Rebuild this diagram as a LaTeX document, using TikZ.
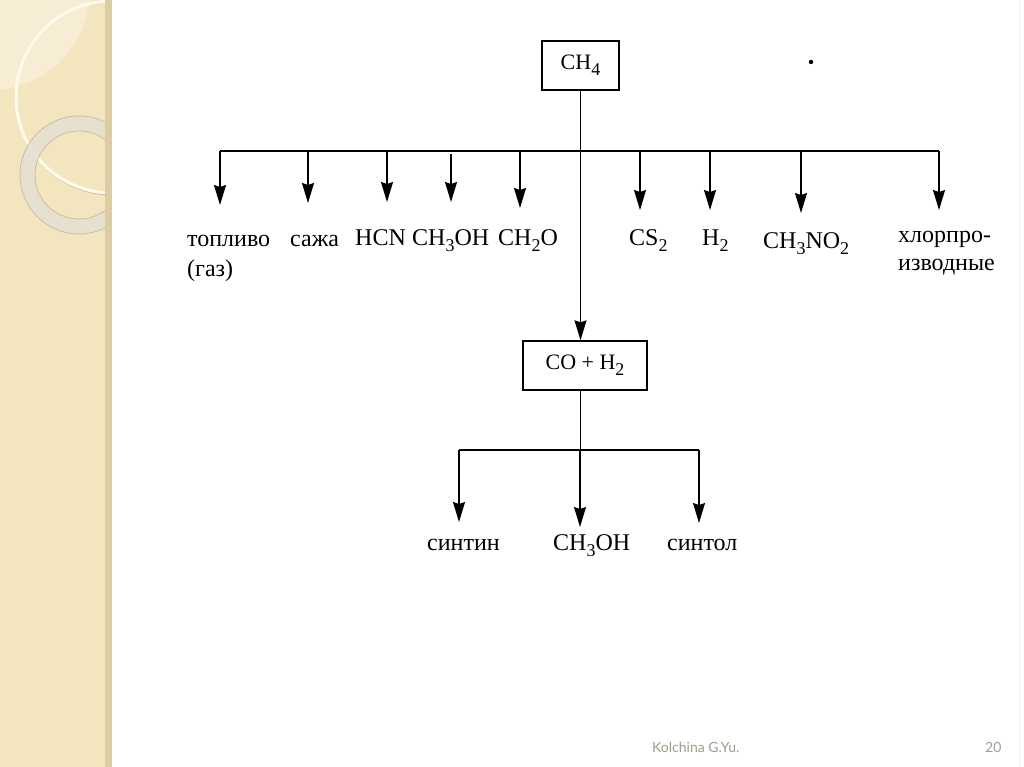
\documentclass[tikz,border=0pt]{standalone}
\usepackage{fontspec}
\setmainfont{Liberation Serif}
\newfontfamily\footfont{Lato}
\newfontfamily\chemfont{Liberation Serif}
\usetikzlibrary{arrows.meta}
\newcommand\chsb[1]{\raisebox{-0.28em}{\fontsize{18}{18}\selectfont #1}}
\definecolor{panelbg}{HTML}{F3E5BE}
\definecolor{panellight}{HTML}{F7EDD4}
\definecolor{panelstrip}{HTML}{DCCCA3}
\definecolor{ringgray}{HTML}{E4E0D4}
\definecolor{ringedge}{HTML}{C9BFA6}
\definecolor{ringcream}{HTML}{FDFAF0}
\definecolor{foot}{HTML}{A39D8F}
\begin{document}
\begin{tikzpicture}[x=1pt,y=-1pt,
  lbl/.style={anchor=base west,inner sep=0pt,font=\chemfont\fontsize{24}{28}\selectfont},
  boxnode/.style={draw,line width=1.3pt,inner sep=0pt,minimum height=49pt,font=\chemfont\fontsize{22}{26}\selectfont},
  conn/.style={line width=1.4pt},
  arr/.style={conn,-{Stealth[length=20pt,width=12pt,inset=2pt]}},
  footlbl/.style={anchor=base west,inner sep=0pt,text=foot,font=\footfont\fontsize{14}{16}\selectfont}
]
\useasboundingbox (0,0) rectangle (1024,767);
\fill[white] (0,0) rectangle (1024,767);
% left decorative panel
\begin{scope}
  \clip (0,0) rectangle (105,767);
  \fill[panelbg] (0,0) rectangle (105,767);
  \fill[panellight] (-10,-10) circle (100);
  \draw[ringedge,line width=1.2pt] (113,98) circle (97);
  \draw[ringcream,line width=3pt] (112,97) circle (96);
  \fill[ringgray,opacity=0.85,even odd rule] (79,175) circle (59) (79,175) circle (44);
  \draw[ringedge,line width=0.8pt] (79,175) circle (59);
  \draw[ringedge,line width=0.8pt] (79,175) circle (44);
\end{scope}
\fill[panelstrip] (105,0) rectangle (112,767);
\draw[black!6,line width=1pt] (1019,0) -- (1019,767);
% boxes
\node[boxnode,minimum width=77pt] (ch4) at (580.5,65.5) {CH\chsb{4}};
\node[boxnode,minimum width=124pt] (syn) at (585,365.5) {CO + H\chsb{2}};
% dot
\fill (811,62) circle (2.2);
% top bus
\coordinate (bl) at (220,151);
\coordinate (br) at (939,151);
\draw[conn] (bl) -- (br);
\draw[arr] (ch4.south) -- (ch4.south |- syn.north);
\coordinate (t1) at (220,205);
\coordinate (t2) at (308,203);
\coordinate (t3) at (387,202);
\coordinate (t4) at (451,202);
\coordinate (t5) at (520,208);
\coordinate (t6) at (640,210);
\coordinate (t7) at (710,210);
\coordinate (t8) at (801,213);
\coordinate (t9) at (939,210);
\foreach \t in {t1,t2,t3,t5,t6,t7,t8,t9}{\draw[arr] (\t |- bl) -- (\t);}
\draw[arr] ([yshift=-3pt]t4 |- bl) -- (t4);
% top labels
\node[lbl] (l1a) at (187,247) {топливо};
\node[lbl] (l1b) at (187,276) {(газ)};
\node[lbl] (l2) at (290,247) {сажа};
\node[lbl] (l3) at (355,245) {HCN};
\node[lbl] (l4) at (412,245) {CH\chsb{3}OH};
\node[lbl] (l5) at (498,245) {CH\chsb{2}O};
\node[lbl] (l6) at (629,245) {CS\chsb{2}};
\node[lbl] (l7) at (702,245) {H\chsb{2}};
\node[lbl] (l8) at (763,248) {CH\chsb{3}NO\chsb{2}};
\node[lbl] (l9a) at (898,243) {хлорпро-};
\node[lbl] (l9b) at (898,270) {изводные};
% lower bus
\coordinate (bl2) at (459,450);
\coordinate (br2) at (699,450);
\draw[conn] (ch4.south |- syn.south) -- (ch4.south |- bl2);
\draw[conn] (bl2) -- (br2);
\coordinate (u1) at (459,522);
\coordinate (u2) at (580,527);
\coordinate (u3) at (699,523);
\foreach \t in {u1,u2,u3}{\draw[arr] (\t |- bl2) -- (\t);}
\node[lbl] (m1) at (427,550) {синтин};
\node[lbl] (m2) at (553,550) {CH\chsb{3}OH};
\node[lbl] (m3) at (667,550) {синтол};
% footer
\node[footlbl] (author) at (652,752) {Kolchina G.Yu.};
\node[footlbl] (page) at (985,752) {20};
\end{tikzpicture}
\end{document}
